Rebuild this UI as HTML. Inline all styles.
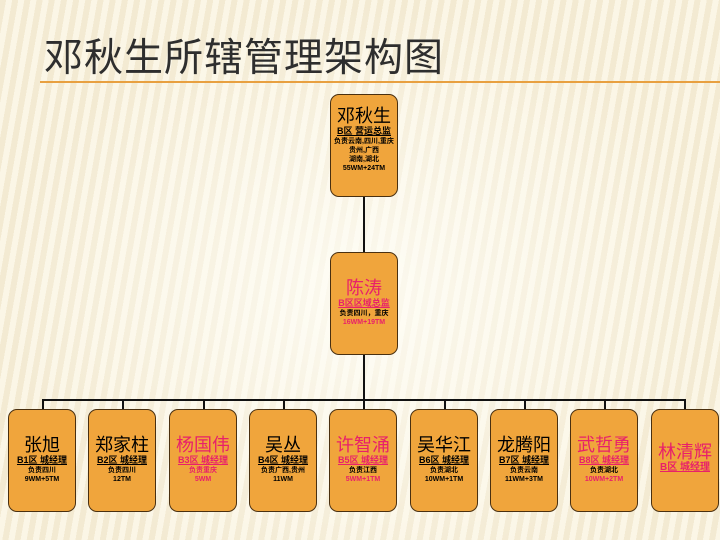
<!DOCTYPE html>
<html><head><meta charset="utf-8"><style>
body{margin:0;width:720px;height:540px;overflow:hidden;position:relative;font-family:"Liberation Sans","Noto Sans CJK SC",sans-serif;
background:repeating-linear-gradient(100deg,#f3ead2 0 6px,#fbf6e6 6px 12px);}
.bg{position:absolute;inset:0;background:radial-gradient(ellipse at 50% 55%,rgba(255,255,250,0.75),rgba(255,255,255,0) 70%);}
.title{position:absolute;left:44px;top:27px;font-size:39px;color:#2e2e2e;letter-spacing:1px;font-family:"Noto Sans CJK SC",sans-serif;}
.hr{position:absolute;left:40px;top:81px;width:680px;height:2px;background:#e8a040;}
.box{position:absolute;width:68px;height:103px;background:#f0a53c;border:1px solid #4a3010;border-radius:9px;text-align:center;box-sizing:border-box;}
.n{font-size:18px;font-family:"Noto Sans CJK SC",sans-serif;line-height:21px;}
.s{font-size:9px;font-weight:bold;text-decoration:underline;line-height:11px;white-space:nowrap;}
.d{font-size:7px;font-weight:bold;line-height:9px;white-space:nowrap;}
.r{color:#e8206a}
.l{position:absolute;background:#111;}
</style></head><body><div class="bg"></div>
<div class="title">邓秋生所辖管理架构图</div><div class="hr"></div>
<div class="l" style="left:363px;top:197px;width:2px;height:204px"></div>
<div class="l" style="left:42px;top:399px;width:644px;height:2px"></div>
<div class="l" style="left:42px;top:399px;width:2px;height:11px"></div>
<div class="l" style="left:122px;top:399px;width:2px;height:11px"></div>
<div class="l" style="left:203px;top:399px;width:2px;height:11px"></div>
<div class="l" style="left:283px;top:399px;width:2px;height:11px"></div>
<div class="l" style="left:363px;top:399px;width:2px;height:11px"></div>
<div class="l" style="left:444px;top:399px;width:2px;height:11px"></div>
<div class="l" style="left:524px;top:399px;width:2px;height:11px"></div>
<div class="l" style="left:604px;top:399px;width:2px;height:11px"></div>
<div class="l" style="left:684px;top:399px;width:2px;height:11px"></div>

<div class="box" style="left:330px;top:94px;padding-top:10px"><div class="n">邓秋生</div><div class="s">B区 营运总监</div><div class="d">负责云南,四川,重庆<br>贵州,广西<br>湖南,湖北<br>55WM+24TM</div></div>
<div class="box" style="left:330px;top:252px;padding-top:24px"><div class="n r">陈涛</div><div class="s r">B区区域总监</div><div class="d">负责四川，重庆</div><div class="d r">16WM+19TM</div></div>

<div class="box" style="left:8px;top:409px;padding-top:24px"><div class="n">张旭</div><div class="s">B1区 城经理</div><div class="d">负责四川<br>9WM+5TM</div></div>
<div class="box" style="left:88px;top:409px;padding-top:24px"><div class="n">郑家柱</div><div class="s">B2区 城经理</div><div class="d">负责四川<br>12TM</div></div>
<div class="box r" style="left:169px;top:409px;padding-top:24px"><div class="n">杨国伟</div><div class="s">B3区 城经理</div><div class="d">负责重庆<br>5WM</div></div>
<div class="box" style="left:249px;top:409px;padding-top:24px"><div class="n">吴丛</div><div class="s">B4区 城经理</div><div class="d">负责广西,贵州<br>11WM</div></div>
<div class="box r" style="left:329px;top:409px;padding-top:24px"><div class="n">许智涌</div><div class="s">B5区 城经理</div><div class="d"><span style="color:#000">负责江西</span><br>5WM+1TM</div></div>
<div class="box" style="left:410px;top:409px;padding-top:24px"><div class="n">吴华江</div><div class="s">B6区 城经理</div><div class="d">负责湖北<br>10WM+1TM</div></div>
<div class="box" style="left:490px;top:409px;padding-top:24px"><div class="n">龙腾阳</div><div class="s">B7区 城经理</div><div class="d">负责云南<br>11WM+3TM</div></div>
<div class="box r" style="left:570px;top:409px;padding-top:24px"><div class="n">武哲勇</div><div class="s">B8区 城经理</div><div class="d"><span style="color:#000">负责湖北</span><br>10WM+2TM</div></div>
<div class="box r" style="left:651px;top:409px;padding-top:31px"><div class="n">林清辉</div><div class="s" style="font-size:10px">B区 城经理</div></div>
</body></html>
